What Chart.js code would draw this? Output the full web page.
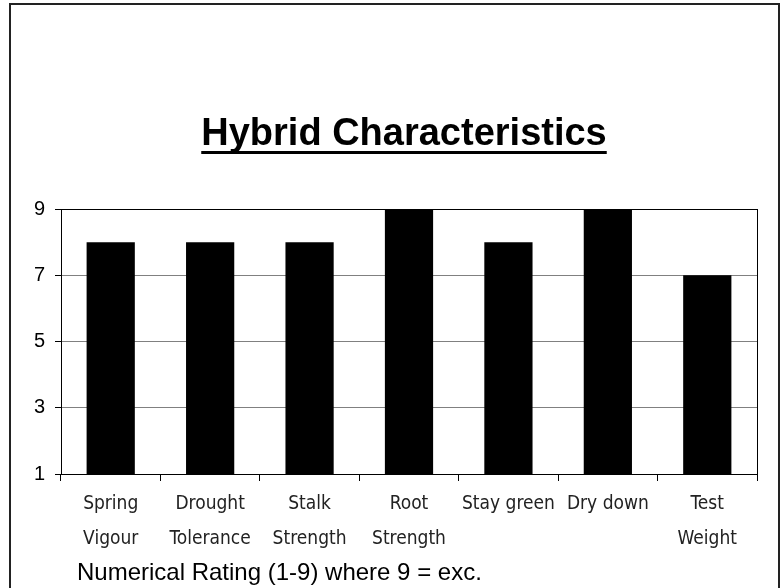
<!DOCTYPE html>
<html>
<head>
<meta charset="utf-8">
<style>
  html, body { margin: 0; padding: 0; background: #fff; }
  #wrap { width: 784px; height: 588px; position: relative; }
</style>
<script src="https://cdn.jsdelivr.net/npm/chart.js@4"></script>
</head>
<body>
<div id="wrap"><canvas id="hybridChart" width="784" height="588"></canvas></div>
<script>
// #### Data
const categories = [
    ['Spring', 'Vigour'],
    ['Drought', 'Tolerance'],
    ['Stalk', 'Strength'],
    ['Root', 'Strength'],
    ['Stay green', ''],
    ['Dry down', ''],
    ['Test', 'Weight']
];
const ratings = [8, 8, 8, 9, 8, 9, 7];
const yTicks = [1, 3, 5, 7, 9];

const chartTitle = 'Hybrid Characteristics';
const chartNote = 'Numerical Rating (1-9) where 9 = exc.';

// #### Decorations: frame, plot border, title with underline, note
const decorations = {
    id: 'decorations',
    beforeDraw(chart) {
        const ctx = chart.ctx;
        ctx.save();
        ctx.fillStyle = '#fff';
        ctx.fillRect(0, 0, chart.width, chart.height);
        ctx.strokeStyle = '#222';
        ctx.lineWidth = 2;
        ctx.strokeRect(10, 4, 769, 620);
        ctx.restore();
    },
    afterDraw(chart) {
        const ctx = chart.ctx;
        const area = chart.chartArea;
        ctx.save();
        // plot area border
        ctx.strokeStyle = '#000';
        ctx.lineWidth = 1;
        ctx.strokeRect(area.left + 0.5, area.top + 0.5, area.right - area.left, area.bottom - area.top);

        // title
        ctx.fillStyle = '#000';
        ctx.font = 'bold 38px "Liberation Sans", Arial, sans-serif';
        ctx.textAlign = 'center';
        ctx.textBaseline = 'alphabetic';
        const cx = 404;
        ctx.fillText(chartTitle, cx, 145);
        const w = ctx.measureText(chartTitle).width;
        ctx.fillRect(cx - w / 2, 151, w, 3);

        // note under the axis
        ctx.font = '24px "Liberation Sans", Arial, sans-serif';
        ctx.textAlign = 'left';
        ctx.textBaseline = 'middle';
        ctx.fillText(chartNote, 77, 573);
        ctx.restore();
    }
};

// #### Chart
const hybridChart = new Chart(document.getElementById('hybridChart').getContext('2d'), {
    type: 'bar',
    data: {
        labels: categories,
        datasets: [{
            label: 'Rating',
            data: ratings,
            backgroundColor: '#000',
            borderWidth: 0,
            categoryPercentage: 1,
            barPercentage: 0.485
        }]
    },
    options: {
        responsive: false,
        animation: false,
        layout: { padding: { top: 209, left: 10, right: 27, bottom: 0 } },
        scales: {
            x: {
                grid: {
                    offset: true,
                    drawOnChartArea: false,
                    drawTicks: true,
                    tickLength: 7,
                    tickColor: '#000'
                },
                border: { display: true, color: '#000' },
                ticks: {
                    color: '#222',
                    padding: 6,
                    maxRotation: 0,
                    autoSkip: false,
                    font: { family: '"Liberation Sans Narrow", "Arial Narrow", "DejaVu Sans Condensed", Arial, sans-serif', size: 19, lineHeight: 35 / 19 }
                },
                afterFit(scale) { scale.height = 114; }
            },
            y: {
                min: 1,
                max: 9,
                afterBuildTicks(scale) { scale.ticks = yTicks.map(v => ({ value: v })); },
                grid: {
                    color: '#808080',
                    tickColor: '#000',
                    tickLength: 6
                },
                border: { display: true, color: '#000' },
                ticks: {
                    color: '#000',
                    padding: 10,
                    font: { family: '"Liberation Sans", Arial, sans-serif', size: 20 }
                },
                afterFit(scale) { scale.width = 51; }
            }
        },
        plugins: {
            legend: { display: false },
            title: { display: false },
            tooltip: { enabled: false }
        }
    },
    plugins: [decorations]
});
</script>
</body>
</html>
